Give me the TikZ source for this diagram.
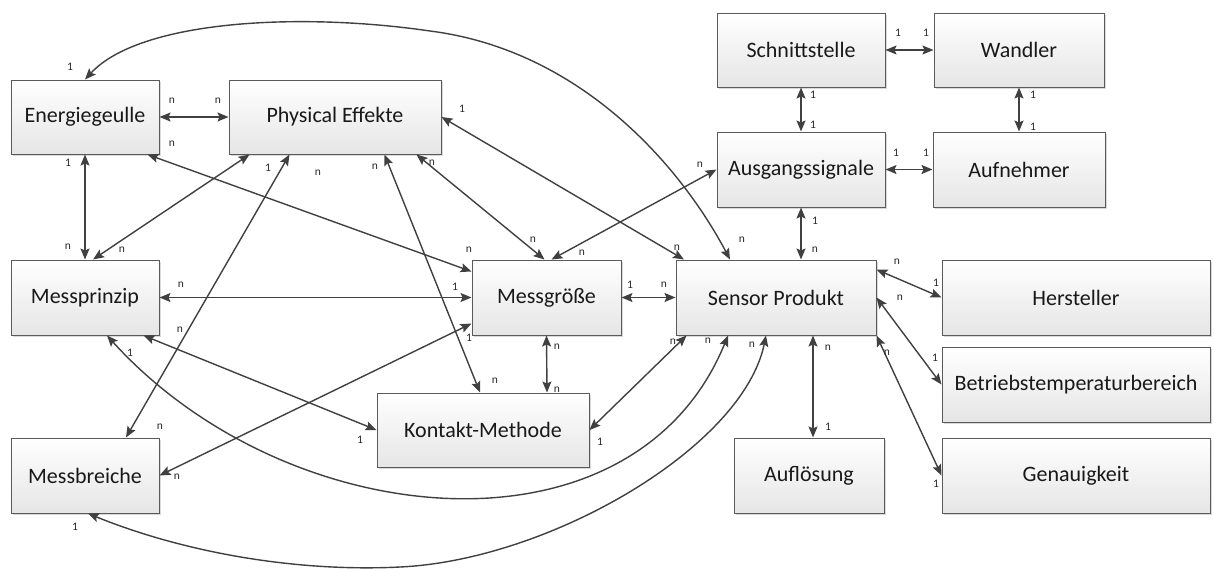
\documentclass[tikz,border=0pt]{standalone}
\usepackage{fontspec}
\setmainfont{Carlito}
\usetikzlibrary{arrows.meta,shadows,calc}
\definecolor{edgec}{HTML}{404040}
\definecolor{boxline}{HTML}{5A5A5A}
\begin{document}
\begin{tikzpicture}[x=1pt,y=-1pt,
  box/.style={draw=boxline, line width=1pt, top color=white, bottom color=black!10,
    inner sep=0pt, font=\fontsize{22}{24}\selectfont, text=black!90,
    drop shadow={shadow xshift=2pt, shadow yshift=-2pt, opacity=0.25, fill=black!60}},
  tipx/.tip={Stealth[length=11pt,width=9pt,inset=2pt]},
  arr/.style={draw=edgec, line width=1.4pt, tipx-tipx},
  lbl/.style={font=\fontsize{11.5}{12}\selectfont, text=black!85, inner sep=0pt}]
\useasboundingbox (0,0) rectangle (1214,568);

% boxes
\node[box, minimum width=148pt, minimum height=74pt] (E)  at (85,117) {Energiegeulle};
\node[box, minimum width=212pt, minimum height=74pt] (PE) at (335,117) {Physical Effekte};
\node[box, minimum width=168pt, minimum height=74pt] (SS) at (801,50) {Schnittstelle};
\node[box, minimum width=170pt, minimum height=74pt] (WA) at (1019,50) {Wandler};
\node[box, minimum width=168pt, minimum height=75pt] (AS) at (801,169.5) {Ausgangssignale};
\node[box, minimum width=172pt, minimum height=75pt] (AN) at (1019,169.5) {Aufnehmer};
\node[box, minimum width=148pt, minimum height=75pt] (MP) at (85,297.5) {Messprinzip};
\node[box, minimum width=149pt, minimum height=75pt] (MG) at (546.5,297.5) {Messgröße};
\node[box, minimum width=200pt, minimum height=75pt] (SP) at (776,297.5) {Sensor Produkt};
\node[box, minimum width=268pt, minimum height=75pt] (HE) at (1076,297.5) {Hersteller};
\node[box, minimum width=268pt, minimum height=75pt] (BT) at (1076,384.5) {Betriebstemperaturbereich};
\node[box, minimum width=212pt, minimum height=74pt] (KM) at (483,430) {Kontakt-Methode};
\node[box, minimum width=148pt, minimum height=75pt] (MB) at (85,475.5) {Messbreiche};
\node[box, minimum width=150pt, minimum height=75pt] (AU) at (809,475.5) {Auflösung};
\node[box, minimum width=268pt, minimum height=75pt] (GE) at (1076,475.5) {Genauigkeit};

% connectors
\draw[arr] (E.east) -- (PE.west);
\draw[arr] ([xshift=-46pt]SP.north) .. controls (680,165) and (580,50) .. (430,31)
           .. controls (300,12) and (140,20) .. (E.north);
\draw[arr] (E.south) -- (MP.north);
\draw[arr] (PE.east) -- ([xshift=-92pt]SP.north);
\draw[arr] ([xshift=-12pt]E.south east) -- ([yshift=-12pt]MG.north west);
\draw[arr] ([xshift=8pt]MP.north) -- ([xshift=21pt]PE.south west);
\draw[arr] ([xshift=41pt]MB.north) -- ([xshift=61pt]PE.south west);
\draw[arr] ([xshift=-3pt]KM.north) -- ([xshift=156pt]PE.south west);
\draw[arr] ([xshift=-2pt]MG.north) -- ([xshift=188pt]PE.south west);
\draw[arr] (AS.west) -- ([xshift=5pt]MG.north);
\draw[arr] (MP.east) -- (MG.west);
\draw[arr] (MB.east) -- ([yshift=12pt]MG.south west);
\draw[arr] ([xshift=-16pt]MP.south east) -- (KM.west);
\draw[arr] ([xshift=22pt]MP.south) .. controls (288,535) and (634,566) .. ([xshift=-48pt]SP.south);
\draw[arr] ([xshift=3pt]MB.south) .. controls (188,554) and (300,572) .. (400,567)
           .. controls (550,560) and (743,447) .. ([xshift=-10pt]SP.south);
\draw[arr] (MG.south) -- ([xshift=64pt]KM.north);
\draw[arr] (MG.east) -- (SP.west);
\draw[arr] (KM.east) -- ([xshift=11pt]SP.south west);
\draw[arr] (AS.south) -- ([xshift=25pt]SP.north);
\draw[arr] (SS.south) -- (AS.north);
\draw[arr] (SS.east) -- (WA.west);
\draw[arr] (WA.south) -- (AN.north);
\draw[arr] (AS.east) -- (AN.west);
\draw[arr] ([yshift=-10pt]SP.north east) -- (HE.west);
\draw[arr] (SP.east) -- (BT.west);
\draw[arr] (SP.south east) -- (GE.west);
\draw[arr] ([xshift=37pt]SP.south) -- ([xshift=4pt]AU.north);

% multiplicity labels
\node[lbl] (l1a) at (172,101) {n};
\node[lbl] (l1b) at (218,101) {n};
\node[lbl] (l2a) at (70,67) {1};
\node[lbl] (l2b) at (742,240) {n};
\node[lbl] (l3a) at (68,163) {1};
\node[lbl] (l3b) at (68,247) {n};
\node[lbl] (l4a) at (462,109) {1};
\node[lbl] (l4b) at (677,248) {n};
\node[lbl] (l5a) at (172,144) {n};
\node[lbl] (l5b) at (469,250) {n};
\node[lbl] (l6a) at (122,250) {n};
\node[lbl] (l6b) at (268,168) {1};
\node[lbl] (l7a) at (160,427) {n};
\node[lbl] (l7b) at (318,173) {n};
\node[lbl] (l8a) at (375,167) {n};
\node[lbl] (l8b) at (495,381) {n};
\node[lbl] (l9a) at (432,163) {n};
\node[lbl] (l9b) at (533,240) {n};
\node[lbl] (l10a) at (700,165) {n};
\node[lbl] (l10b) at (582,253) {n};
\node[lbl] (l11a) at (181,285) {n};
\node[lbl] (l11b) at (455,287) {1};
\node[lbl] (l12a) at (177,477) {n};
\node[lbl] (l12b) at (469,338) {1};
\node[lbl] (l13a) at (180,330) {n};
\node[lbl] (l13b) at (360,440) {1};
\node[lbl] (l14a) at (130,353) {1};
\node[lbl] (l14b) at (708,341) {n};
\node[lbl] (l15a) at (75,527) {1};
\node[lbl] (l15b) at (752,345) {n};
\node[lbl] (l16a) at (557,347) {n};
\node[lbl] (l16b) at (557,390) {n};
\node[lbl] (l17a) at (630,285) {1};
\node[lbl] (l17b) at (664,285) {n};
\node[lbl] (l18a) at (600,442) {1};
\node[lbl] (l18b) at (673,342) {n};
\node[lbl] (l19a) at (815,221) {1};
\node[lbl] (l19b) at (815,250) {n};
\node[lbl] (l20a) at (813,95) {1};
\node[lbl] (l20b) at (813,125) {1};
\node[lbl] (l21a) at (898,33) {1};
\node[lbl] (l21b) at (926,33) {1};
\node[lbl] (l22a) at (1033,95) {1};
\node[lbl] (l22b) at (1033,127) {1};
\node[lbl] (l23a) at (896,153) {1};
\node[lbl] (l23b) at (926,153) {1};
\node[lbl] (l24a) at (897,262) {n};
\node[lbl] (l24b) at (936,283) {1};
\node[lbl] (l25a) at (900,298) {n};
\node[lbl] (l25b) at (935,358) {1};
\node[lbl] (l26a) at (887,353) {n};
\node[lbl] (l26b) at (936,484) {1};
\node[lbl] (l27a) at (828,348) {n};
\node[lbl] (l27b) at (828,427) {1};
\end{tikzpicture}
\end{document}
